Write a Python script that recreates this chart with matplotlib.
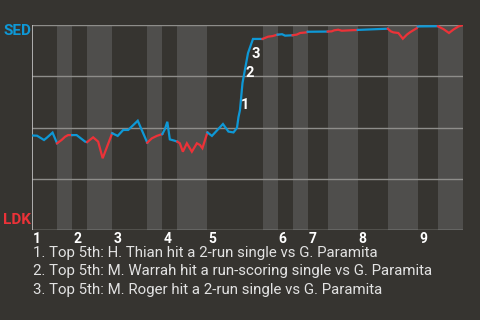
import matplotlib
matplotlib.use("Agg")
import matplotlib.pyplot as plt
import matplotlib.transforms as mtransforms

plt.rcParams['font.family'] = ['Roboto', 'DejaVu Sans']

bg = "#363430"
band = "#4f4e4c"
blue = "#0e98d6"
red = "#ec3238"

# half-inning boundaries in plate-appearance units (top, bottom, top, ...)
half_bounds = [0, 5, 8, 11, 16, 23, 26, 29, 35, 46, 49, 52, 55, 59, 65, 71, 77, 81, 86]
innings = ["1", "2", "3", "4", "5", "6", "7", "8", "9"]

# SED win probability along the game
wp_x = [0, 1.0, 2.4, 3.0, 4.1, 5,
        5.9, 6.6, 7.2, 8,
        8.9, 10.6, 11,
        12.2, 13.2, 14.1, 16,
        17.1, 18.2, 19.2, 20.0, 21.1, 23,
        23.9, 24.9, 26,
        26.5, 27.0, 27.5, 28.4, 29,
        29.5, 30.1, 30.9, 31.9, 32.9, 33.5, 34.0, 35,
        35.9, 38.1, 39.2, 40.2, 40.9, 41.2, 41.5, 42.0, 43.1, 44.1, 46,
        47.1, 48.0, 49,
        49.9, 50.5, 52,
        52.8, 53.5, 54.8, 55,
        59,
        59.8, 60.3, 61.1, 61.8, 65,
        71,
        71.6, 72.1, 73.1, 74.0, 74.8, 75.4, 76.8, 77,
        81,
        82.1, 83.2, 84.1, 85.1, 86]
wp_y = [0.461, 0.460, 0.439, 0.451, 0.475, 0.423,
        0.439, 0.455, 0.463, 0.463,
        0.463, 0.431, 0.429,
        0.452, 0.431, 0.350, 0.472,
        0.459, 0.488, 0.488, 0.507, 0.533, 0.426,
        0.447, 0.459, 0.468,
        0.491, 0.528, 0.442, 0.436, 0.431,
        0.423, 0.382, 0.423, 0.382, 0.423, 0.415, 0.399, 0.476,
        0.459, 0.517, 0.480, 0.476, 0.498, 0.551, 0.585, 0.717, 0.863, 0.932, 0.932,
        0.943, 0.946, 0.953,
        0.955, 0.948, 0.950,
        0.953, 0.961, 0.964, 0.967,
        0.968,
        0.969, 0.974, 0.977, 0.972, 0.976,
        0.982,
        0.969, 0.964, 0.961, 0.933, 0.953, 0.964, 0.985, 0.993,
        0.994,
        0.980, 0.961, 0.978, 0.993, 1.0]

# key plays marked on the chart
event_x = [42.5, 43.5, 44.7]
event_y = [0.61, 0.766, 0.859]
event_labels = ["1", "2", "3"]
notes = ["1. Top 5th: H. Thian hit a 2-run single vs G. Paramita",
         "2. Top 5th: M. Warrah hit a run-scoring single vs G. Paramita",
         "3. Top 5th: M. Roger hit a 2-run single vs G. Paramita"]

fig = plt.figure(figsize=(4.8, 3.2), dpi=100, facecolor=bg)
ax = fig.add_axes([32 / 480, 90 / 320, 431 / 480, 205 / 320])
ax.set_facecolor(bg)
ax.set_xlim(half_bounds[0], half_bounds[-1])
ax.set_ylim(0, 1)

# shade the bottom halves
for i in range(1, len(half_bounds) - 1, 2):
    ax.axvspan(half_bounds[i], half_bounds[i + 1], color=band, lw=0, zorder=0)

for yv in [0.25, 0.5, 0.75, 1.0]:
    ax.axhline(yv, color="#8e8d8a", lw=1, zorder=1)
ax.axhline(0, color="#c4c4c4", lw=1, zorder=1)
ax.axvline(0, color="#c4c4c4", lw=1.2, zorder=1)

# line split by half inning
for i in range(len(half_bounds) - 1):
    a, b = half_bounds[i], half_bounds[i + 1]
    xs = [x for x in wp_x if a <= x <= b]
    ys = [y for x, y in zip(wp_x, wp_y) if a <= x <= b]
    ax.plot(xs, ys, color=blue if i % 2 == 0 else red, lw=1.6,
            solid_joinstyle="miter", zorder=3)

for ex, ey, lab in zip(event_x, event_y, event_labels):
    ax.text(ex, ey, lab, color="white", fontsize=10.5, fontweight="bold",
            ha="center", va="center", zorder=4)

for side in ax.spines.values():
    side.set_visible(False)
ax.set_xticks([])
ax.set_yticks([])

trans = mtransforms.blended_transform_factory(ax.transData, ax.transAxes)
for i, lab in enumerate(innings):
    ax.text(half_bounds[2 * i] + 0.2, -0.01, lab, transform=trans, color="white",
            fontsize=10, fontweight="bold", ha="left", va="top")

fig.text(3 / 480, 1 - 31 / 320, "SED", color=blue, fontsize=11,
         fontweight="bold", ha="left", va="center")
fig.text(3 / 480, 1 - 220 / 320, "LDK", color=red, fontsize=11,
         fontweight="bold", ha="left", va="center")

for k, note in enumerate(notes):
    fig.text(33 / 480, 1 - (253 + 18.5 * k) / 320, note, color="#e2e2e2",
             fontsize=10.8, ha="left", va="center")

fig.savefig("out.png", dpi=100, facecolor=bg)
